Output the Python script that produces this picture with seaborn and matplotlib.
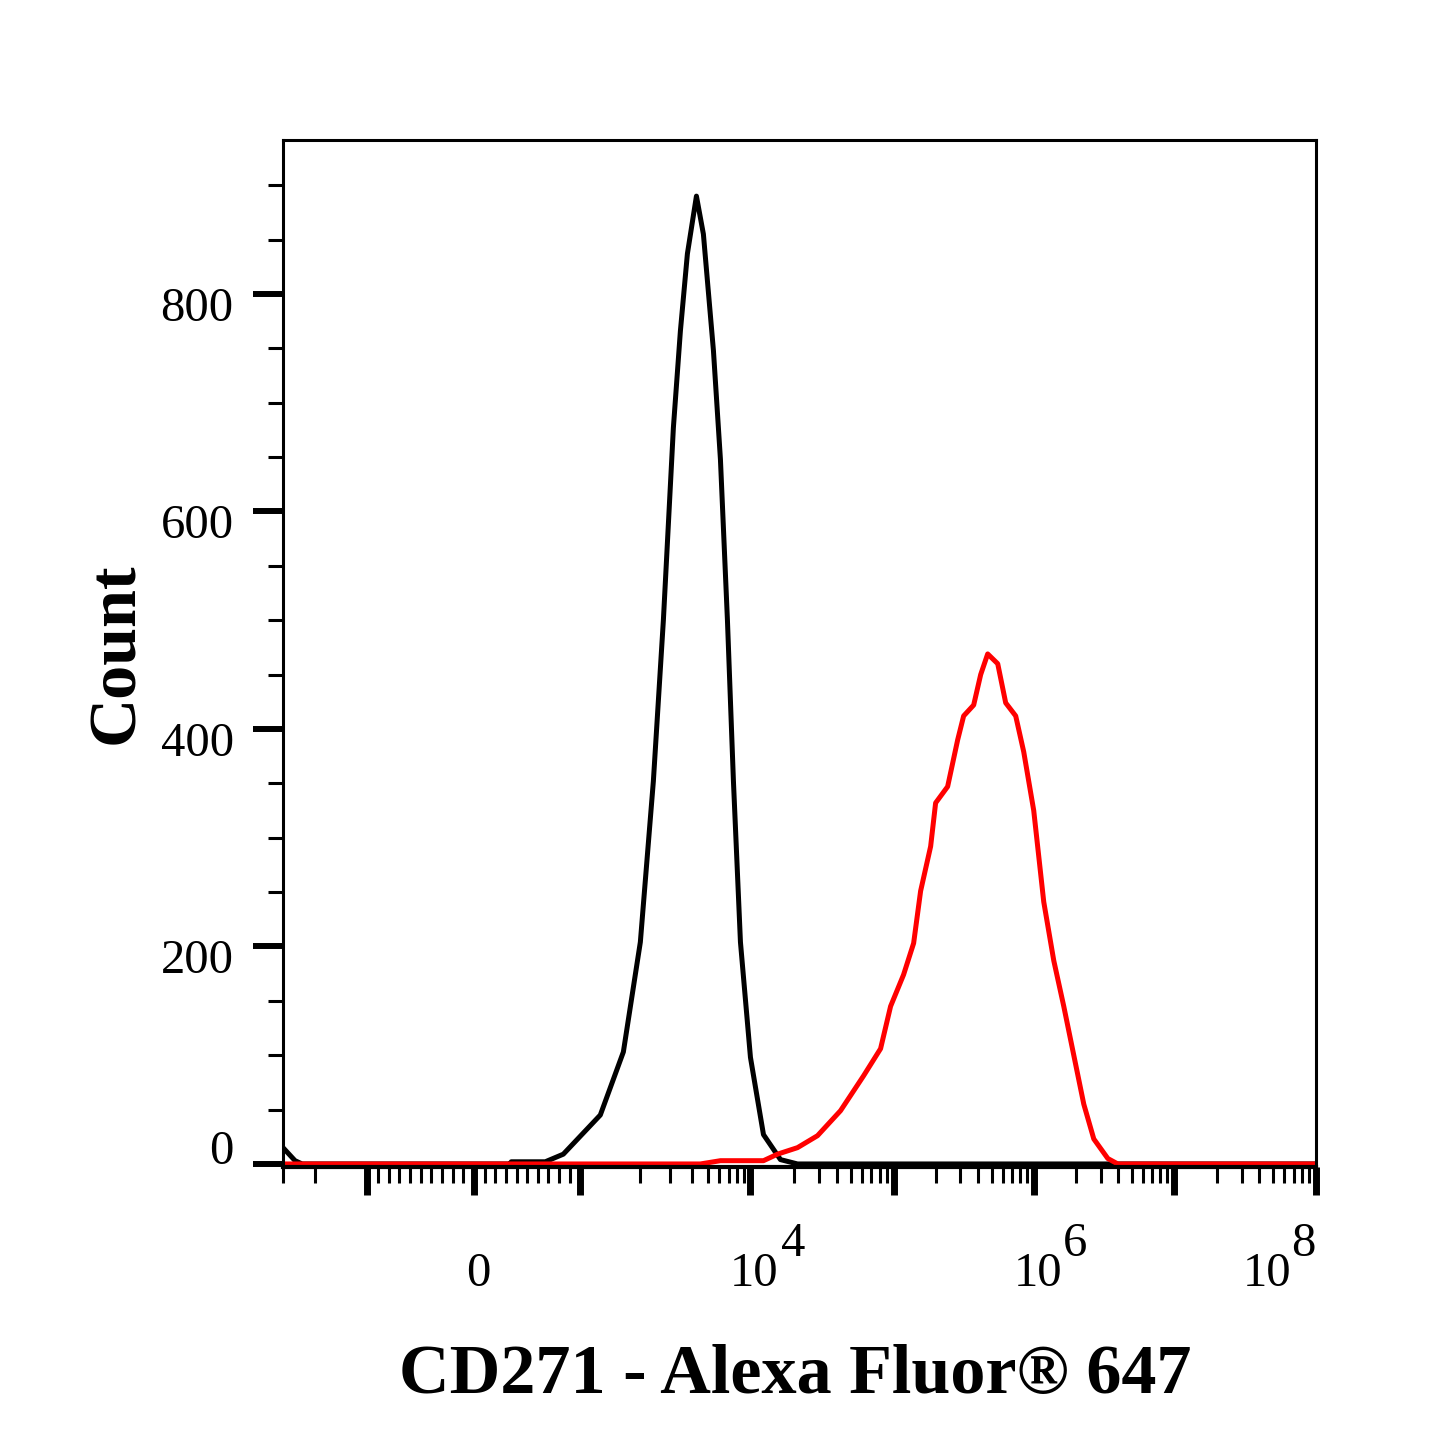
import numpy as np
import matplotlib
matplotlib.use("Agg")
import matplotlib.pyplot as plt
import matplotlib.transforms as mtransforms
from matplotlib.ticker import FixedLocator
import seaborn as sns

# ---------------- data ----------------
isotype_intensity = [-3000, -2576, -2355, 340, 349, 670, 840, 1260, 1644, 2000,
                     2383, 2727, 3120, 3429, 3768, 4255, 4674, 5431, 6095, 6842,
                     7553, 8479, 10000, 12330, 16210, 21320, 1e8]
isotype_count = [15, 3, 0, 0, 2, 2, 9, 45, 103, 204,
                 352, 500, 677, 766, 837, 890, 855, 748, 648, 500,
                 352, 204, 98, 27, 4, 0, 0]

cd271_intensity = [-3000, 4488, 6095, 12330, 15450, 21320, 29410, 42600, 61660, 81100,
                   95300, 117800, 139000, 155900, 183800, 199500, 243000, 286600, 316200, 372800,
                   418300, 469300, 553400, 631000, 743600, 848400, 1.0e6, 1.179e6, 1.39e6, 1.638e6,
                   1.931e6, 2.276e6, 2.683e6, 3.378e6, 3.981e6, 1e8]
cd271_count = [0, 0, 3, 3, 9, 15, 26, 49, 81, 106,
               145, 174, 203, 251, 292, 332, 347, 390, 412, 422,
               450, 469, 460, 424, 412, 379, 325, 241, 187, 145,
               100, 55, 23, 5, 0, 0]

x_major_ticks = [-1000, 0, 1000, 1e4, 1e5, 1e6, 1e7, 1e8]
x_label_ticks = [0, 1e4, 1e6, 1e8]
x_label_base = ["0", "10", "10", "10"]
x_label_exp = ["", "4", "6", "8"]
y_major_ticks = [0, 200, 400, 600, 800]
y_tick_labels = ["0", "200", "400", "600", "800"]
x_title = "CD271 - Alexa Fluor® 647"
y_title = "Count"

# ---------------- biexponential-like axis scale ----------------
T_ANCH = [-1.4771, -1.30103, -1.0, 0.0, 1.0, 1.30103, 1.69897, 2.0, 3.0, 4.0, 5.0, 6.0]
P_ANCH = [283.0, 315.0, 367.0, 474.0, 580.0, 640.0, 708.0, 750.0, 893.0, 1033.0, 1173.0, 1315.0]


def _interp(x, xp, fp):
    x = np.asarray(x, dtype=float)
    y = np.interp(x, xp, fp)
    y = np.where(x < xp[0], fp[0] + (x - xp[0]) * (fp[1] - fp[0]) / (xp[1] - xp[0]), y)
    y = np.where(x > xp[-1], fp[-1] + (x - xp[-1]) * (fp[-1] - fp[-2]) / (xp[-1] - xp[-2]), y)
    return y


def _to_t(x):
    x = np.asarray(x, dtype=float)
    a = np.abs(x)
    with np.errstate(divide="ignore", invalid="ignore"):
        lg = np.sign(x) * (1.0 + np.log10(np.maximum(a, 1e-300) / 1000.0))
    return np.where(a <= 1000.0, x / 1000.0, lg)


def _from_t(t):
    t = np.asarray(t, dtype=float)
    a = np.abs(t)
    with np.errstate(over="ignore"):
        big = np.sign(t) * 1000.0 * np.power(10.0, np.minimum(a, 300) - 1.0)
    return np.where(a <= 1.0, t * 1000.0, big)


def fwd(x):
    return _interp(_to_t(x), T_ANCH, P_ANCH)


def inv(p):
    return _from_t(_interp(p, P_ANCH, T_ANCH))


# ---------------- style ----------------
sns.set_theme(style="white")
plt.rcParams["font.family"] = ["Liberation Serif", "DejaVu Serif"]
plt.rcParams["axes.linewidth"] = 2.2
plt.rcParams["axes.edgecolor"] = "black"
TICK_FAMILY = ["Liberation Serif", "DejaVu Serif"]
TICK_SIZE = 35

W = H = 1445
fig = plt.figure(figsize=(W / 100, H / 100), dpi=100)
fig.patch.set_facecolor("white")
ax = fig.add_axes([283 / W, 1 - 1167 / H, 1033 / W, 1027 / H])
ax.set_facecolor("white")

sns.lineplot(x=isotype_intensity, y=isotype_count, ax=ax, color="black",
             linewidth=3.6, estimator=None, sort=False)
sns.lineplot(x=cd271_intensity, y=cd271_count, ax=ax, color="#ff0000",
             linewidth=3.6, estimator=None, sort=False)

ax.set_xscale("function", functions=(fwd, inv))
ax.set_xlim(-3000, 1e8)
ax.set_ylim(-2.8, 941.6)

for s in ax.spines.values():
    s.set_visible(True)
    s.set_color("black")
    s.set_linewidth(2.2)
ax.spines["bottom"].set_linewidth(3.0)

# x ticks
minor_x = [-3000, -2000] + [-k * 100 for k in range(9, 0, -1)] + [k * 100 for k in range(1, 10)]
for d in range(3, 8):
    minor_x += [k * 10 ** d for k in range(2, 10)]
ax.xaxis.set_major_locator(FixedLocator(x_major_ticks))
ax.xaxis.set_minor_locator(FixedLocator(minor_x))
lab_map = dict(zip(x_label_ticks, x_label_base))
ax.set_xticks(x_major_ticks, labels=[lab_map.get(v, "") for v in x_major_ticks])
ax.set_xticks(minor_x, minor=True)

# y ticks
ax.set_yticks(y_major_ticks, labels=y_tick_labels)
ax.set_yticks([v for v in range(50, 901, 50) if v not in y_major_ticks], minor=True)

ax.tick_params(axis="x", which="major", direction="out", length=20, width=5,
               pad=66, labelsize=TICK_SIZE, colors="black", bottom=True, top=False)
ax.tick_params(axis="x", which="minor", direction="out", length=11.5, width=2.2,
               bottom=True, top=False, colors="black")
ax.tick_params(axis="y", which="major", direction="out", length=21.5, width=4.3,
               pad=14, labelsize=TICK_SIZE, colors="black", left=True, right=False)
ax.tick_params(axis="y", which="minor", direction="out", length=11, width=2.2,
               left=True, right=False, colors="black")
ax.grid(False)

# label alignment / offsets
for v, lbl in zip(x_major_ticks, ax.get_xticklabels()):
    lbl.set_family(TICK_FAMILY)
    lbl.set_verticalalignment("baseline")
    dx = -49 if v == x_label_ticks[-1] else 4
    lbl.set_transform(lbl.get_transform() + mtransforms.ScaledTranslation(dx / 100, 0, fig.dpi_scale_trans))

for v, lbl in zip(y_major_ticks, ax.get_yticklabels()):
    lbl.set_family(TICK_FAMILY)
    dy = 17 if v == 0 else -10
    lbl.set_transform(lbl.get_transform() + mtransforms.ScaledTranslation(0, dy / 100, fig.dpi_scale_trans))

# exponents of the decade labels
exp_dx = {1e4: 31, 1e6: 29, 1e8: -25}
for v, e in zip(x_label_ticks, x_label_exp):
    if not e:
        continue
    ax.annotate(e, xy=(v, 0), xycoords=ax.get_xaxis_transform(),
                xytext=(exp_dx[v] * 0.72, -89 * 0.72), textcoords="offset points",
                ha="left", va="baseline", fontsize=TICK_SIZE, family=TICK_FAMILY,
                color="black", annotation_clip=False)

ax.set_xlabel(x_title, fontsize=50.5, fontweight="bold", color="black")
ax.set_ylabel(y_title, fontsize=49, fontweight="bold", color="black")
ax.xaxis.set_label_coords(0.496, -0.172)
ax.yaxis.set_label_coords(-0.132, 0.5)

fig.savefig("out.png", dpi=100, facecolor="white")
